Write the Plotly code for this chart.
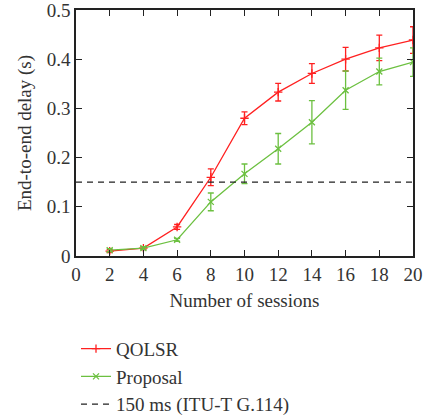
import plotly.graph_objects as go

sessions = [2, 4, 6, 8, 10, 12, 14, 16, 18, 20]
qolsr = [0.010, 0.016, 0.059, 0.160, 0.280, 0.333, 0.371, 0.400, 0.423, 0.439]
qolsr_err = [0.003, 0.003, 0.005, 0.017, 0.013, 0.018, 0.020, 0.024, 0.026, 0.027]
proposal = [0.012, 0.016, 0.033, 0.110, 0.167, 0.218, 0.272, 0.337, 0.375, 0.394]
proposal_err = [0.003, 0.003, 0.003, 0.018, 0.020, 0.031, 0.044, 0.039, 0.027, 0.029]
threshold_x = [0, 20]
threshold_y = [0.15, 0.15]

RED = "#ff2020"
GREEN = "#6cc040"
FONT = "Liberation Serif"
FS = 19

fig = go.Figure()
fig.add_trace(go.Scatter(
    x=sessions, y=qolsr, name="QOLSR", mode="lines+markers",
    line=dict(color=RED, width=1.3),
    marker=dict(symbol="cross-thin", size=6, line=dict(color=RED, width=1.3)),
    error_y=dict(type="data", array=qolsr_err, color=RED, thickness=1.3, width=3),
))
fig.add_trace(go.Scatter(
    x=sessions, y=proposal, name="Proposal", mode="lines+markers",
    line=dict(color=GREEN, width=1.3),
    marker=dict(symbol="x-thin", size=6, line=dict(color=GREEN, width=1.3)),
    error_y=dict(type="data", array=proposal_err, color=GREEN, thickness=1.3, width=3),
))
fig.add_trace(go.Scatter(
    x=threshold_x, y=threshold_y, name="150 ms (ITU-T G.114)", mode="lines",
    line=dict(color="#222222", width=1.3, dash="6px,5px"),
))

fig.update_layout(
    width=424, height=418,
    margin=dict(l=76, r=11, t=10, b=162, autoexpand=False),
    paper_bgcolor="white", plot_bgcolor="white",
    font=dict(family=FONT, size=FS, color="#333333"),
    showlegend=True,
    legend=dict(x=0.0, y=-0.30, xanchor="left", yanchor="top",
                bgcolor="rgba(0,0,0,0)", font=dict(size=FS, family=FONT),
                tracegroupgap=0),
    xaxis=dict(
        range=[0, 20], tickvals=[0, 2, 4, 6, 8, 10, 12, 14, 16, 18, 20],
        ticks="inside", ticklen=6, tickcolor="#222", showgrid=False,
        showline=True, linecolor="#222", linewidth=1.5, mirror="allticks",
        zeroline=False, automargin=False, ticklabeloverflow="allow",
        title=dict(text="Number of sessions", standoff=10, font=dict(size=FS)),
        tickfont=dict(size=FS),
    ),
    yaxis=dict(
        range=[0, 0.5], tickvals=[0, 0.1, 0.2, 0.3, 0.4, 0.5],
        ticktext=["0", "0.1", "0.2", "0.3", "0.4", "0.5"],
        ticks="inside", ticklen=6, tickcolor="#222", showgrid=False,
        showline=True, linecolor="#222", linewidth=1.5, mirror="allticks",
        zeroline=False, automargin=False, ticklabeloverflow="allow",
        title=dict(text="End-to-end delay (s)", standoff=10, font=dict(size=FS)),
        tickfont=dict(size=FS),
    ),
)

fig.write_html("out.html")
